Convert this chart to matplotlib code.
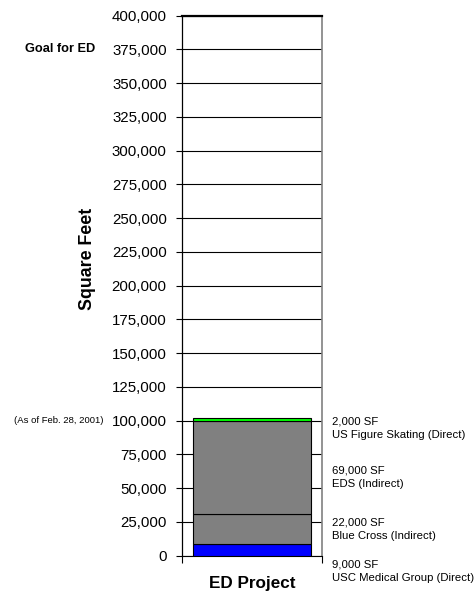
import matplotlib
matplotlib.use('Agg')
import matplotlib.pyplot as plt
import matplotlib.transforms as mtransforms

plt.rcParams['font.family'] = ['Liberation Sans', 'DejaVu Sans']

# segments of the ED project, bottom to top (square feet)
segments = ['USC Medical Group (Direct)', 'Blue Cross (Indirect)', 'EDS (Indirect)', 'US Figure Skating (Direct)']
sq_feet = [9000, 22000, 69000, 2000]
seg_colors = ['#0000ff', '#808080', '#808080', '#00ff00']
category = 'ED Project'
yticks = list(range(0, 400001, 25000))

# y position (data units) of each right-hand label block
label_y = [-11300, 19600, 57900, 94100]

fig = plt.figure(figsize=(4.77, 5.92), dpi=100)
ax = fig.add_axes([0.3816, 0.0613, 0.2935, 0.9125])

bottom = 0
for name, val, col in zip(segments, sq_feet, seg_colors):
    ax.bar(0, val, width=0.84, bottom=bottom, color=col, edgecolor='black', linewidth=0.8, zorder=3)
    bottom += val

ax.set_xlim(-0.5, 0.5)
ax.set_ylim(0, 400000)
ax.set_yticks(yticks)
ax.set_yticklabels(['{:,}'.format(t) for t in yticks], fontsize=10.8)
ax.set_xticks([-0.5, 0.5])
ax.set_xticklabels(['', ''])
ax.tick_params(axis='x', direction='out', length=5, width=0.8, color='black')
ax.tick_params(axis='y', direction='out', length=4, width=0.8, color='black', pad=7)

ax.yaxis.grid(True, color='black', linewidth=0.8, zorder=1)
ax.set_axisbelow(True)
ax.spines['top'].set_linewidth(1.6)
ax.spines['left'].set_color('black')
ax.spines['left'].set_linewidth(0.9)
ax.spines['right'].set_color('#808080')
ax.spines['right'].set_linewidth(1.2)
ax.spines['bottom'].set_linewidth(0.8)

trans = mtransforms.blended_transform_factory(ax.transAxes, ax.transData)

ax.text(-0.621, 375000, 'Goal for ED', transform=trans, ha='right', va='center',
        fontsize=9.2, fontweight='bold')
ax.text(-0.564, 100000, '(As of Feb. 28, 2001)', transform=trans, ha='right', va='center',
        fontsize=6.8)

for name, val, y in zip(segments, sq_feet, label_y):
    ax.text(1.071, y, '{:,} SF\n{}'.format(val, name), transform=trans, ha='left', va='center',
            fontsize=8.2, linespacing=1.45)

ax.text(0.5, -0.051, category, transform=ax.transAxes, ha='center', va='center',
        fontsize=12.3, fontweight='bold')
fig.text(88 / 477, 0.5625, 'Square Feet', rotation=90, ha='center', va='center',
         fontsize=12.8, fontweight='bold')

fig.savefig('out.png', dpi=100)
